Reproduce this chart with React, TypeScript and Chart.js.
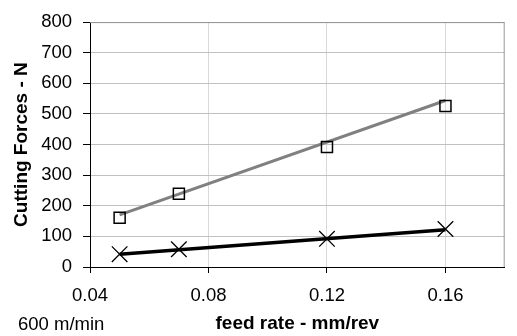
import React, { useEffect, useRef } from 'react';
import { Chart, registerables } from 'chart.js';

Chart.register(...registerables);

// ---- data ----
const feedRates = [0.05, 0.07, 0.12, 0.16];
const forceSquares = [161, 239, 392, 526];
const forceCrosses = [42, 58, 92, 124];
const trendX = [0.05, 0.16];
const trendSquares = [170, 544];
const trendCrosses = [42, 122];
const xTickValues = [0.04, 0.08, 0.12, 0.16];
const yTickStep = 100;
const xTitle = 'feed rate - mm/rev';
const yTitle = 'Cutting Forces - N';
const noteText = '600 m/min';

const FONT = '"Liberation Sans", Arial, Helvetica, sans-serif';

export default function App() {
  const canvasRef = useRef<HTMLCanvasElement | null>(null);

  useEffect(() => {
    const canvas = canvasRef.current;
    if (!canvas) return;

    const borderPlugin = {
      id: 'plotBorder',
      beforeDatasetsDraw(chart: any) {
        const { ctx, chartArea } = chart;
        ctx.save();
        ctx.strokeStyle = '#999999';
        ctx.lineWidth = 1;
        ctx.beginPath();
        ctx.moveTo(chartArea.left, chartArea.top + 0.5);
        ctx.lineTo(chartArea.right - 0.5, chartArea.top + 0.5);
        ctx.lineTo(chartArea.right - 0.5, chartArea.bottom);
        ctx.stroke();
        ctx.restore();
      },
      afterDraw(chart: any) {
        const { ctx } = chart;
        ctx.save();
        ctx.font = `18.5px ${FONT}`;
        ctx.fillStyle = '#000';
        ctx.textAlign = 'left';
        ctx.textBaseline = 'alphabetic';
        ctx.fillText(noteText, 18, 330);
        ctx.restore();
      },
    };

    const chart = new Chart(canvas, {
      type: 'scatter',
      data: {
        datasets: [
          {
            label: 'squares',
            data: feedRates.map((x, i) => ({ x, y: forceSquares[i] })),
            showLine: false,
            pointStyle: 'rect',
            pointRadius: 7.8,
            pointHoverRadius: 7.8,
            pointBorderColor: '#000',
            pointBorderWidth: 1.5,
            pointBackgroundColor: 'rgba(0,0,0,0)',
          },
          {
            label: 'crosses',
            data: feedRates.map((x, i) => ({ x, y: forceCrosses[i] })),
            showLine: false,
            pointStyle: 'crossRot',
            pointRadius: 11,
            pointHoverRadius: 11,
            pointBorderColor: '#000',
            pointBorderWidth: 1.3,
          },
          {
            label: 'trend squares',
            data: trendX.map((x, i) => ({ x, y: trendSquares[i] })),
            showLine: true,
            borderColor: '#808080',
            borderWidth: 3,
            pointRadius: 0,
            pointHoverRadius: 0,
          },
          {
            label: 'trend crosses',
            data: trendX.map((x, i) => ({ x, y: trendCrosses[i] })),
            showLine: true,
            borderColor: '#000',
            borderWidth: 3.5,
            pointRadius: 0,
            pointHoverRadius: 0,
          },
        ],
      },
      options: {
        responsive: false,
        animation: false,
        devicePixelRatio: 1,
        layout: { padding: { top: 18, right: 1, left: 0, bottom: 0 } },
        plugins: {
          legend: { display: false },
          tooltip: { enabled: false },
        },
        scales: {
          x: {
            type: 'linear',
            min: 0.04,
            max: 0.18,
            afterBuildTicks: (scale: any) => {
              scale.ticks = xTickValues.map((value) => ({ value }));
            },
            afterFit: (scale: any) => {
              scale.height = 69;
            },
            ticks: {
              autoSkip: false,
              maxRotation: 0,
              padding: 11.5,
              color: '#000',
              font: { family: FONT, size: 18.5 },
              callback: (v: any) => Number(v).toFixed(2),
            },
            grid: {
              color: '#d9d9d9',
              tickColor: '#000',
              tickLength: 6,
              lineWidth: 1,
            },
            border: { color: '#000', width: 1 },
            title: {
              display: true,
              text: xTitle,
              color: '#000',
              font: { family: FONT, size: 19, weight: 'bold', lineHeight: 1 },
              padding: { top: 0, bottom: 2.5 },
            },
          },
          y: {
            type: 'linear',
            min: 0,
            max: 800,
            afterFit: (scale: any) => {
              scale.width = 90;
            },
            ticks: {
              stepSize: yTickStep,
              padding: 11,
              color: '#000',
              font: { family: FONT, size: 18.5 },
            },
            grid: {
              color: (ctx: any) => (ctx.tick && ctx.tick.value === 800 ? '#999999' : '#c0c0c0'),
              tickColor: '#000',
              tickLength: 7,
              lineWidth: 1,
            },
            border: { color: '#000', width: 1 },
            title: {
              display: true,
              text: yTitle,
              color: '#000',
              font: { family: FONT, size: 19, weight: 'bold', lineHeight: 1 },
              padding: { top: 12.5, bottom: 0 },
            },
          },
        },
      },
      plugins: [borderPlugin],
    });

    return () => {
      chart.destroy();
    };
  }, []);

  return (
    <div style={{ position: 'absolute', left: 0, top: 0, width: 517, height: 336, background: '#fff' }}>
      <canvas ref={canvasRef} width={517} height={336} style={{ width: 517, height: 336, display: 'block' }} />
    </div>
  );
}
